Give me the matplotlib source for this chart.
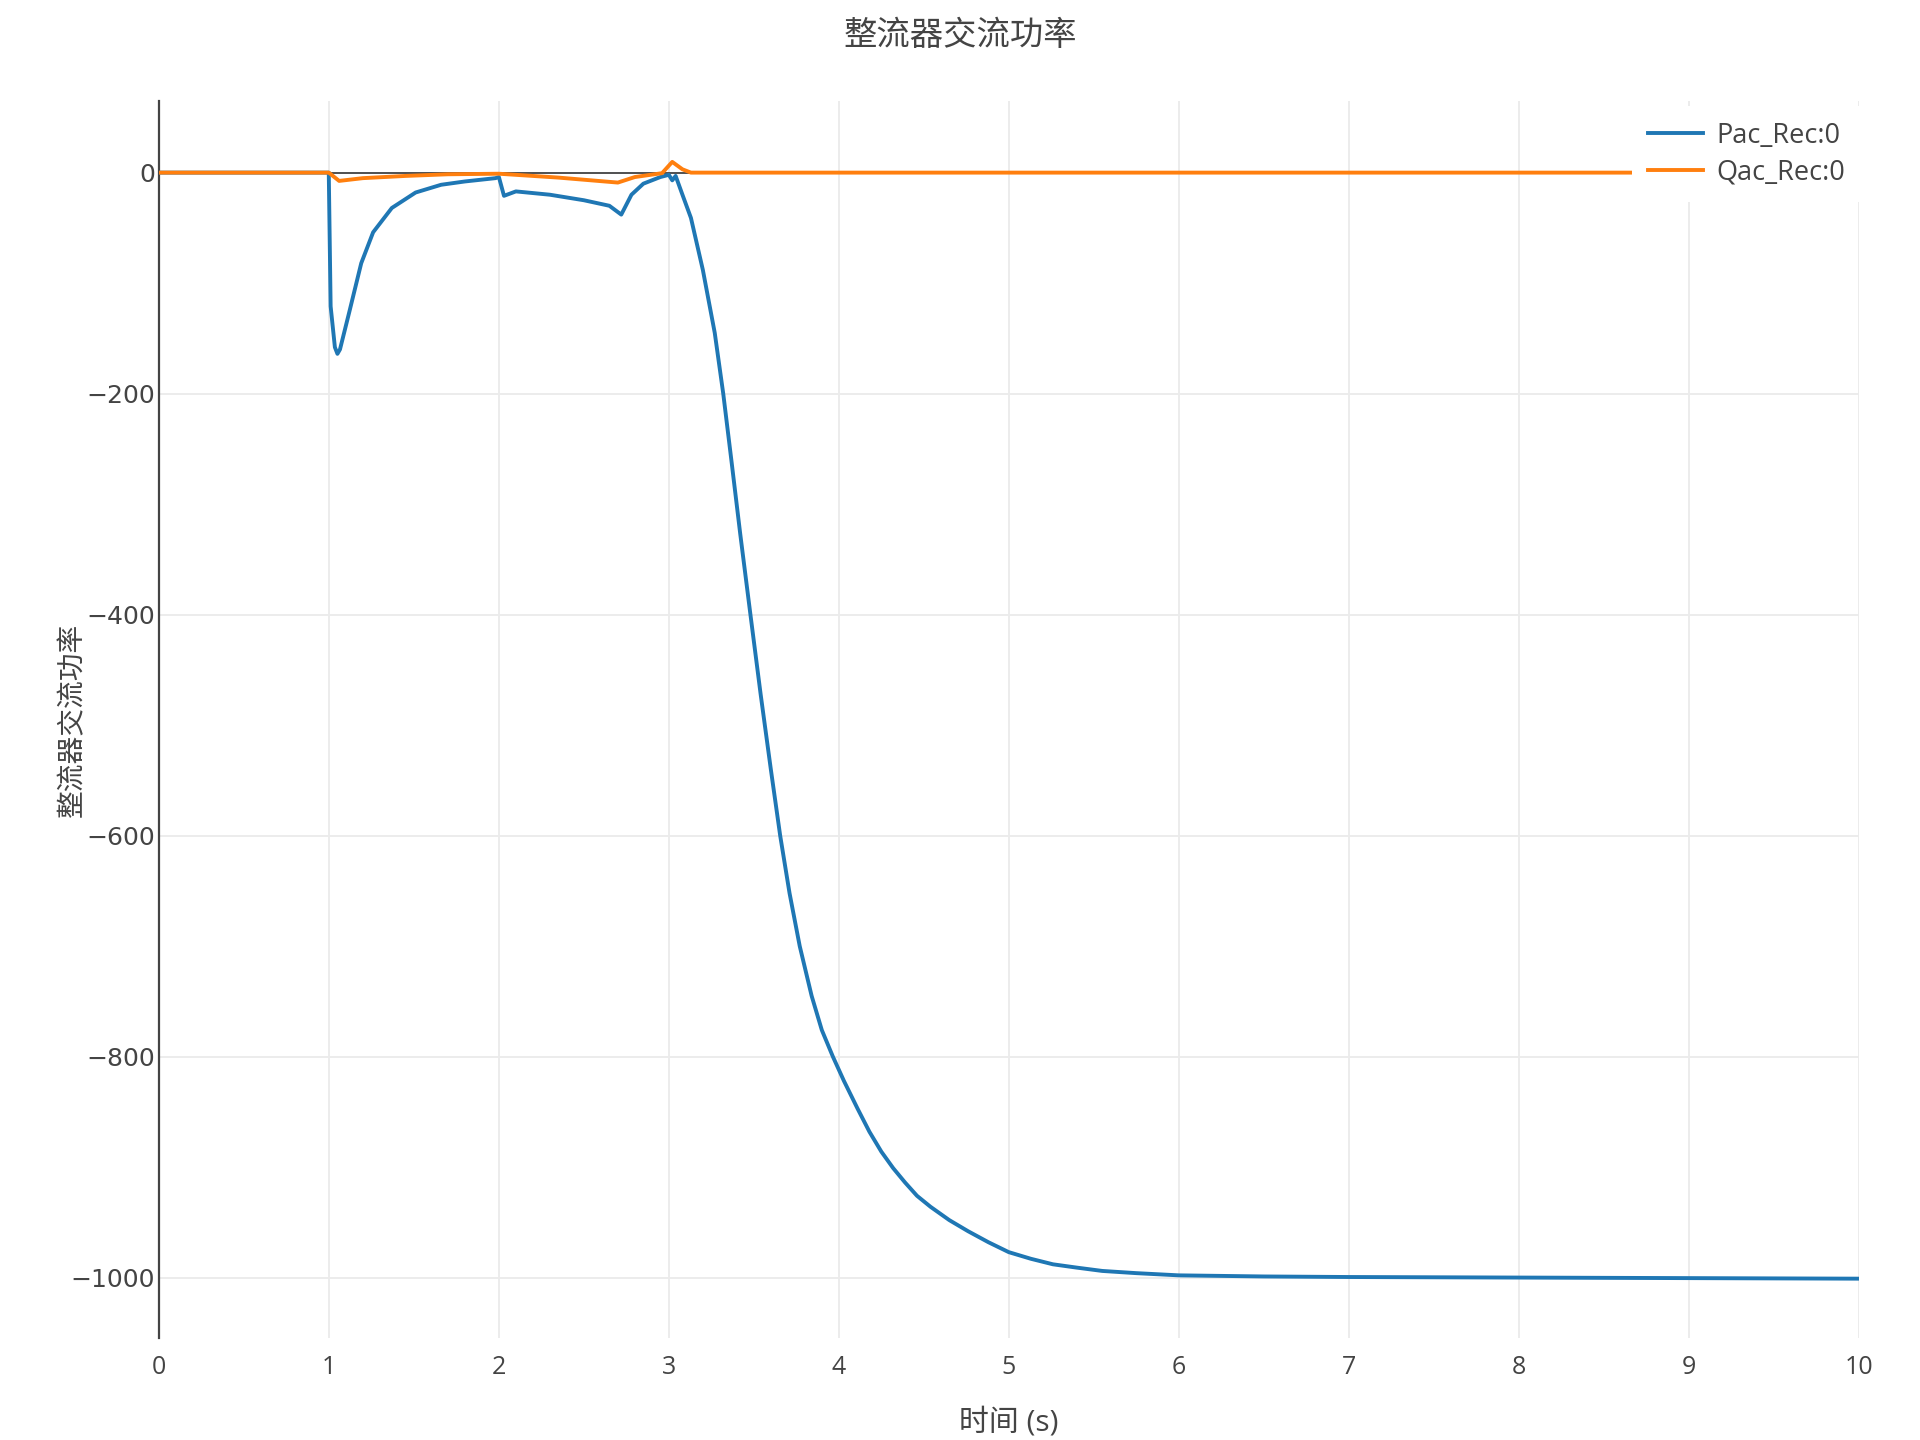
import matplotlib
matplotlib.use("Agg")
import matplotlib.pyplot as plt

plt.rcParams['font.family'] = ['Open Sans', 'Noto Sans CJK SC', 'DejaVu Sans']
plt.rcParams['axes.unicode_minus'] = True

# 时间 (s) 与 整流器交流功率
t_pac = [0, 0.999, 1.01, 1.035, 1.05, 1.065, 1.12, 1.19, 1.26, 1.37, 1.51, 1.66, 1.80, 1.98,
         2.0, 2.03, 2.1, 2.3, 2.5, 2.65, 2.72, 2.78, 2.85, 2.95, 3.0,
         3.02, 3.04, 3.08, 3.13, 3.20, 3.27, 3.32, 3.37, 3.42, 3.48, 3.54,
         3.60, 3.655, 3.71, 3.77, 3.84, 3.90, 3.965, 4.03, 4.11, 4.18, 4.25, 4.32,
         4.39, 4.46, 4.54, 4.65, 4.76, 4.88, 5.0, 5.13, 5.26, 5.4, 5.55,
         5.75, 6.0, 6.5, 7.0, 8.0, 9.0, 10.0]
pac = [0, 0, -121, -158, -164, -160, -126, -82, -54, -32, -18, -11, -8, -5,
       -4, -21, -17, -20, -25, -30, -38, -20, -10, -4, -2,
       -7, -3, -20, -41, -88, -145, -200, -263, -327, -400, -472,
       -540, -600, -652, -700, -745, -776, -800, -822, -847, -868, -886, -901,
       -914, -926, -936, -948, -958, -968, -977, -983, -988, -991, -994,
       -996, -998, -999, -999.5, -1000, -1000.5, -1001]

t_qac = [0, 0.999, 1.06, 1.2, 1.45, 1.7, 2.0, 2.35, 2.70, 2.80, 2.96,
         3.02, 3.08, 3.13, 5.0, 10.0]
qac = [0, 0, -7.5, -5, -3, -1.5, -1, -4.5, -9, -4, -0.5,
       9.7, 3, 0, 0, 0]

yticks = [0, -200, -400, -600, -800, -1000]
ylabels = ['0', '\u2212200', '\u2212400', '\u2212600', '\u2212800', '\u22121000']

fig = plt.figure(figsize=(19.2, 14.4), dpi=100)
ax = fig.add_axes([0.0828, 0.0706, 0.968 - 0.0828, 0.930 - 0.0706])

ax.plot(t_pac, pac, color='#1f77b4', lw=2.8, label='Pac_Rec:0', zorder=3)
ax.plot(t_qac, qac, color='#ff7f0e', lw=2.8, label='Qac_Rec:0', zorder=4)

ax.set_xlim(0, 10)
ax.set_ylim(-1055, 65)
ax.set_xticks(range(0, 11))
ax.set_yticks(yticks)
ax.set_yticklabels(ylabels, family=['DejaVu Sans'])
ax.grid(True, color='#ebebeb', lw=1.3, zorder=0)
ax.set_axisbelow(True)
ax.axhline(0, color='#444444', lw=1.3, zorder=2)

for s in ['top', 'right', 'bottom']:
    ax.spines[s].set_visible(False)
ax.spines['left'].set_color('#444444')
ax.spines['left'].set_linewidth(1.6)
ax.tick_params(length=0, labelsize=18, labelcolor='#444444')
ax.tick_params(axis='x', pad=12)
ax.tick_params(axis='y', pad=3)

fig.text(0.5, 0.9745, '整流器交流功率', ha='center', va='center',
         fontsize=24, color='#444444')
fig.text(0.5255, 0.012, '时间 (s)', ha='center', va='center',
         fontsize=21.5, color='#444444')
fig.text(0.038, 0.5, '整流器交流功率', ha='center', va='center',
         rotation=90, fontsize=20, color='#444444')

leg = ax.legend(loc='upper left', bbox_to_anchor=(0.843, 0.936),
                bbox_transform=fig.transFigure, fontsize=19.5,
                frameon=True, framealpha=1, facecolor='white',
                edgecolor='none', fancybox=False, handlelength=2.0,
                handletextpad=0.5, labelspacing=0.3, borderpad=0.6)
for txt in leg.get_texts():
    txt.set_color('#444444')

fig.savefig('out.png', dpi=100)
